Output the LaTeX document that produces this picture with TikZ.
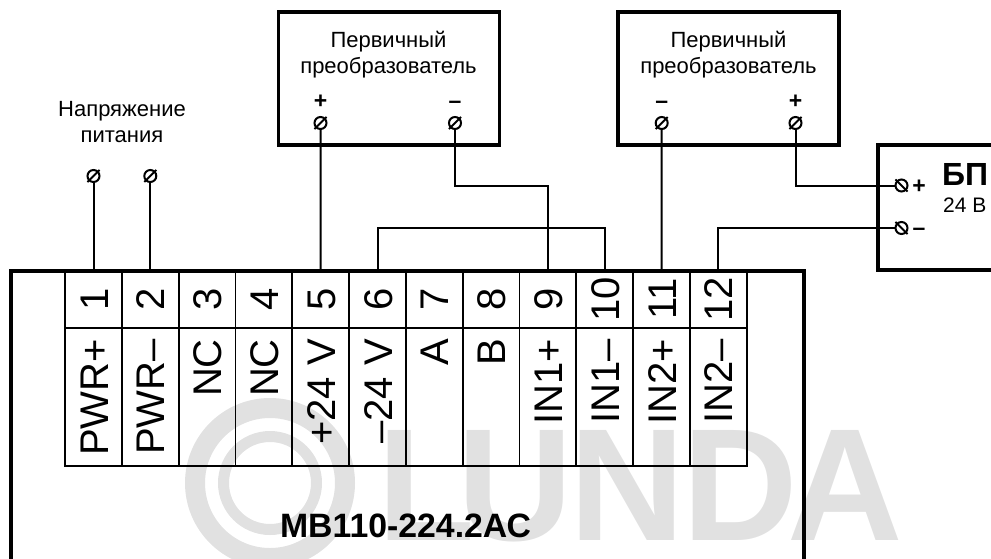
\documentclass[tikz,border=0pt]{standalone}
\usepackage{fontspec}
\setmainfont{Liberation Sans}
\usetikzlibrary{calc}
\definecolor{markgray}{RGB}{225,225,225}
\newcommand{\colstep}{56.8}
\tikzset{
    wire/.style={line width=2},
    frame/.style={draw, line width=3.3, minimum height=133},
    cell/.style={draw, line width=1.8, minimum width=\colstep, inner sep=0},
    pintext/.style={rotate=90, inner sep=0, font=\fontsize{40}{40}\selectfont},
    caption/.style={align=center, inner sep=0, font=\fontsize{22}{26}\selectfont},
    sign/.style={inner sep=0, anchor=base, font=\bfseries\fontsize{23}{23}\selectfont},
    wmark/.style={inner sep=0, anchor=base west, text=markgray, font=\bfseries\fontsize{160}{160}\selectfont},
    screw/.style={draw, circle, line width=2, inner sep=0, minimum size=12,
        append after command={
            (\tikzlastnode.south west) edge[line width=2, shorten <=-1.5, shorten >=-1.5] (\tikzlastnode.north east)
        }
    },
    screwb/.style={draw, circle, line width=2, inner sep=0, minimum size=12,
        append after command={
            (\tikzlastnode.north west) edge[line width=2, shorten <=-1.5, shorten >=-1.5] (\tikzlastnode.south east)
        }
    }
}
\begin{document}
\begin{tikzpicture}[x=1pt, y=-1pt]
    \useasboundingbox (0,0) rectangle (991,558);

    % watermark
    \draw[markgray, line width=20] (270,483) circle (75);
    \draw[markgray, line width=11] (270,483) circle (46.5);
    \node[wmark] (mark-l) at (377,540) {L};
    \node[wmark] (mark-u) at (457,540) {U};
    \node[wmark] (mark-n) at (569,540) {N};
    \node[wmark] (mark-d) at (682,540) {D};
    \node[wmark] (mark-a) at (787,540) {A};

    % device frame, open at the lower edge
    \path
        (11,271) coordinate (dev-nw)
        (804,271) coordinate (dev-ne)
        (11,560) coordinate (dev-sw)
        (804,560) coordinate (dev-se);
    \draw[line width=3.3] (dev-sw) -- (dev-nw) -- (dev-ne) -- (dev-se);
    \node[inner sep=0, anchor=base, font=\bfseries\fontsize{33.8}{34}\selectfont] (dev-name) at (405.5,537) {МВ110-224.2АС};

    % terminal strip
    \foreach \n/\t in {1/PWR+, 2/PWR–, 3/NC, 4/NC, 5/+24 V, 6/–24 V, 7/A, 8/B, 9/IN1+, 10/IN1–, 11/IN2+, 12/IN2–} {
        \pgfmathsetmacro{\cx}{93.5+(\n-1)*\colstep}
        \node[cell, minimum height=56.7] (num\n) at (\cx,299.35) {};
        \node[cell, minimum height=138.3] (pin\n) at (\cx,396.85) {};
        \node[pintext, anchor=base] (numtext\n) at (\cx+14.5,299) {\n};
        \node[pintext, anchor=base east] (pintext\n) at (\cx+14.5,339) {\t};
    }

    % boxes
    \node[frame, minimum width=221] (sensor-a) at (389,78.5) {};
    \node[frame, minimum width=221] (sensor-b) at (728.5,78.5) {};
    \draw[line width=3.3] (1000,145) coordinate (psu-ne) -- (878,145) coordinate (psu-nw) -- (878,270) coordinate (psu-sw) -- (1000,270) coordinate (psu-se);

    % screws
    \node[screw] (t1) at (93.5,176) {};
    \node[screw] (t2) at (150.3,176) {};
    \node[screw] (a-plus) at (320.5,123) {};
    \node[screw] (a-minus) at (455,123) {};
    \node[screw] (b-minus) at (661.7,123) {};
    \node[screw] (b-plus) at (795.5,123) {};
    \node[screwb] (psu-plus) at (901.5,185.5) {};
    \node[screwb] (psu-minus) at (901.5,228) {};

    % wires
    \draw[wire] (t1) -- (num1.north);
    \draw[wire] (t2) -- (num2.north);
    \draw[wire] (a-plus) -- (num5.north);
    \draw[wire] (num6.north) |- (psu-minus -| num8.north) -| (num10.north);
    \draw[wire] (a-minus) |- (psu-plus -| num9.north) -- (num9.north);
    \draw[wire] (b-minus) -- (num11.north);
    \draw[wire] (b-plus) |- (psu-plus);
    \draw[wire] (num12.north) |- (psu-minus);

    % texts
    \node[caption] (supply) at (122,122) {Напряжение\\питания};
    \node[caption] (sensor-a-text) at (388.5,54.5) {Первичный\\преобразователь};
    \node[caption] (sensor-b-text) at (728.5,54.5) {Первичный\\преобразователь};
    \node[sign] at (320.5,108.5) (a-plus-sign) {+};
    \node[sign] at (455,108.5) (a-minus-sign) {–};
    \node[sign] at (661.7,108.5) (b-minus-sign) {–};
    \node[sign] at (795.5,108.5) (b-plus-sign) {+};
    \node[sign] at (919,193.5) (psu-plus-sign) {+};
    \node[sign] at (919,235.5) (psu-minus-sign) {–};
    \node[inner sep=0, anchor=base west, font=\bfseries\fontsize{32}{32}\selectfont] (psu-name) at (942,185) {БП};
    \node[inner sep=0, anchor=base west, font=\fontsize{21}{21}\selectfont] (psu-volt) at (943,212) {24 В};
\end{tikzpicture}
\end{document}
